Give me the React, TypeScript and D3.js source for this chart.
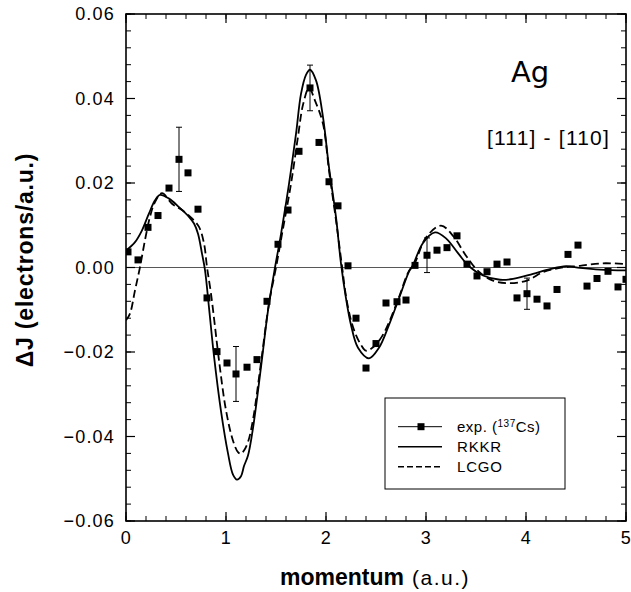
import React from "react";
import * as d3 from "d3";

// Experimental data (exp. 137Cs)
const expX = [0.02, 0.12, 0.22, 0.32, 0.43, 0.53, 0.62, 0.72, 0.81, 0.91, 1.01, 1.10, 1.21, 1.31, 1.41, 1.52, 1.62, 1.73, 1.84, 1.93, 2.03, 2.12, 2.22, 2.30, 2.40, 2.50, 2.60, 2.71, 2.80, 2.89, 3.01, 3.11, 3.21, 3.31, 3.41, 3.51, 3.61, 3.71, 3.81, 3.91, 4.01, 4.11, 4.21, 4.31, 4.42, 4.52, 4.61, 4.71, 4.82, 4.92, 5.0];
const expY = [0.0037, 0.0018, 0.0095, 0.0123, 0.0188, 0.0256, 0.0224, 0.0138, -0.0072, -0.0199, -0.0226, -0.0252, -0.0236, -0.0218, -0.008, 0.0055, 0.0136, 0.0275, 0.0425, 0.0296, 0.0203, 0.0146, 0.0004, -0.012, -0.0238, -0.018, -0.0084, -0.0081, -0.0077, 0.0005, 0.0029, 0.0041, 0.0047, 0.0075, 0.0008, -0.002, -0.001, 0.0008, 0.0013, -0.0072, -0.0062, -0.0075, -0.0091, -0.0052, 0.0031, 0.0053, -0.0044, -0.0026, -0.0009, -0.0046, -0.0028];
// error bars: [index, half-height]
const errIdx = [5, 11, 18, 30, 40];
const errVal = [0.0076, 0.0065, 0.0054, 0.0041, 0.0037];

// RKKR (solid)
const rkkrX = [0, 0.09, 0.16, 0.23, 0.29, 0.34, 0.43, 0.53, 0.63, 0.68, 0.72, 0.76, 0.79, 0.83, 0.88, 0.95, 1.02, 1.07, 1.11, 1.15, 1.18, 1.22, 1.27, 1.35, 1.42, 1.49, 1.55, 1.63, 1.70, 1.75, 1.80, 1.84, 1.90, 1.97, 2.03, 2.10, 2.15, 2.20, 2.25, 2.32, 2.43, 2.53, 2.63, 2.73, 2.83, 2.87, 2.97, 3.09, 3.20, 3.32, 3.43, 3.57, 3.74, 3.87, 4.07, 4.24, 4.40, 4.54, 4.74, 5.0];
const rkkrY = [0.004, 0.006, 0.0088, 0.0128, 0.0159, 0.0172, 0.0163, 0.0143, 0.012, 0.0104, 0.008, 0.0033, -0.0006, -0.0095, -0.021, -0.034, -0.044, -0.049, -0.0502, -0.0494, -0.047, -0.0445, -0.038, -0.0236, -0.0102, 0, 0.0079, 0.0198, 0.0316, 0.0411, 0.0456, 0.0468, 0.0443, 0.0356, 0.0237, 0.0119, 0.0009, -0.0073, -0.0136, -0.019, -0.0215, -0.019, -0.0136, -0.0073, -0.001, 0.0006, 0.0058, 0.0083, 0.0069, 0.0034, 0.0003, -0.0019, -0.0029, -0.0027, -0.0015, -0.0004, 0.0003, -0.0001, -0.0005, -0.0007];

// LCGO (dashed)
const lcgoX = [0, 0.04, 0.09, 0.14, 0.19, 0.24, 0.29, 0.36, 0.46, 0.56, 0.66, 0.73, 0.78, 0.81, 0.85, 0.89, 0.93, 1.0, 1.07, 1.12, 1.15, 1.18, 1.22, 1.27, 1.35, 1.43, 1.50, 1.56, 1.65, 1.72, 1.77, 1.83, 1.89, 1.97, 2.03, 2.10, 2.16, 2.20, 2.25, 2.30, 2.35, 2.40, 2.48, 2.56, 2.63, 2.73, 2.83, 2.88, 3.0, 3.15, 3.27, 3.40, 3.52, 3.67, 3.84, 4.01, 4.17, 4.34, 4.54, 4.77, 5.0];
const lcgoY = [-0.0125, -0.0109, -0.0054, 0.0001, 0.0065, 0.012, 0.0155, 0.0176, 0.0151, 0.0136, 0.0116, 0.0096, 0.0057, 0.0001, -0.0062, -0.014, -0.022, -0.0338, -0.041, -0.0437, -0.0441, -0.0433, -0.0413, -0.036, -0.0225, -0.0085, 0.0, 0.0079, 0.0198, 0.031, 0.0385, 0.0425, 0.0395, 0.034, 0.023, 0.0112, 0.0003, -0.0068, -0.0125, -0.016, -0.0183, -0.0197, -0.0187, -0.0163, -0.013, -0.007, -0.0008, 0.0006, 0.0071, 0.0099, 0.0075, 0.0028, -0.0008, -0.0031, -0.0037, -0.0031, -0.0011, -0.0001, 0.0004, 0.001, 0.0008];

const xTicks = [0, 1, 2, 3, 4, 5];
const yTicks = [-0.06, -0.04, -0.02, 0.0, 0.02, 0.04, 0.06];

const W = 631, H = 592;
const L = 126, R = 626, T = 14, B = 521;

export default function App() {
  const x = d3.scaleLinear().domain([0, 5]).range([L, R]);
  const y = d3.scaleLinear().domain([-0.06, 0.06]).range([B, T]);

  const line = d3.line<[number, number]>()
    .x((d) => x(d[0]))
    .y((d) => y(d[1]))
    .curve(d3.curveCatmullRom.alpha(0.5));

  const rkkr = rkkrX.map((v, i) => [v, rkkrY[i]] as [number, number]);
  const lcgo = lcgoX.map((v, i) => [v, lcgoY[i]] as [number, number]);

  const xMinor = d3.range(0, 5.0001, 0.2);
  const yMinor = d3.range(-0.06, 0.06001, 0.004);
  const fmtY = (v: number) => (Math.abs(v) < 1e-9 ? "0.00" : v.toFixed(2).replace("-", "\u2212"));

  const sq = 7;
  const font = "'Liberation Sans', Arial, sans-serif";

  return (
    <svg width={W} height={H} style={{ position: "absolute", left: 0, top: 0, background: "#fff" }} fontFamily={font}>
      <rect x={0} y={0} width={W} height={H} fill="#fff" />
      <defs>
        <clipPath id="plot">
          <rect x={L} y={T} width={R - L} height={B - T} />
        </clipPath>
      </defs>

      {/* zero line */}
      <line x1={L} x2={R} y1={y(0)} y2={y(0)} stroke="#444" strokeWidth={0.9} />

      {/* minor ticks */}
      {xMinor.map((v, i) => (
        <g key={"xm" + i} stroke="#000" strokeWidth={1}>
          <line x1={x(v)} x2={x(v)} y1={B} y2={B - 5} />
          <line x1={x(v)} x2={x(v)} y1={T} y2={T + 5} />
        </g>
      ))}
      {yMinor.map((v, i) => (
        <g key={"ym" + i} stroke="#000" strokeWidth={1}>
          <line x1={L} x2={L + 5} y1={y(v)} y2={y(v)} />
          <line x1={R} x2={R - 5} y1={y(v)} y2={y(v)} />
        </g>
      ))}
      {/* major ticks */}
      {xTicks.map((v) => (
        <g key={"xt" + v} stroke="#000" strokeWidth={1.2}>
          <line x1={x(v)} x2={x(v)} y1={B} y2={B - 9} />
          <line x1={x(v)} x2={x(v)} y1={T} y2={T + 9} />
        </g>
      ))}
      {yTicks.map((v) => (
        <g key={"yt" + v} stroke="#000" strokeWidth={1.2}>
          <line x1={L} x2={L + 9} y1={y(v)} y2={y(v)} />
          <line x1={R} x2={R - 9} y1={y(v)} y2={y(v)} />
        </g>
      ))}

      {/* frame */}
      <rect x={L} y={T} width={R - L} height={B - T} fill="none" stroke="#000" strokeWidth={1.6} />

      {/* tick labels */}
      {xTicks.map((v) => (
        <text key={"xl" + v} x={x(v)} y={538} textAnchor="middle" dominantBaseline="central" fontSize={18} letterSpacing={0.5}>
          {String(v)}
        </text>
      ))}
      {yTicks.map((v) => (
        <text key={"yl" + v} x={115} y={y(v)} textAnchor="end" dominantBaseline="central" fontSize={18} letterSpacing={1.2}>
          {fmtY(v)}
        </text>
      ))}

      {/* curves */}
      <g clipPath="url(#plot)">
        <path d={line(rkkr) || ""} fill="none" stroke="#000" strokeWidth={1.8} />
        <path d={line(lcgo) || ""} fill="none" stroke="#000" strokeWidth={1.8} strokeDasharray="8,4" />

        {/* error bars */}
        {errIdx.map((idx, k) => {
          const cx = x(expX[idx]);
          const y1 = y(expY[idx] + errVal[k]);
          const y2 = y(expY[idx] - errVal[k]);
          return (
            <g key={"eb" + k} stroke="#000" strokeWidth={1}>
              <line x1={cx} x2={cx} y1={y1} y2={y2} />
              <line x1={cx - 3} x2={cx + 3} y1={y1} y2={y1} />
              <line x1={cx - 3} x2={cx + 3} y1={y2} y2={y2} />
            </g>
          );
        })}
        {/* points */}
        {expX.map((v, i) => (
          <rect key={"p" + i} x={x(v) - sq / 2} y={y(expY[i]) - sq / 2} width={sq} height={sq} fill="#000" />
        ))}
      </g>

      {/* annotations */}
      <text x={511} y={82} fontSize={29} fontFamily="'DejaVu Sans', sans-serif">Ag</text>
      <text x={610} y={145} textAnchor="end" fontSize={21} letterSpacing={1.2}>[111] - [110]</text>

      {/* legend */}
      <rect x={385} y={398} width={180} height={91} fill="#fff" stroke="#000" strokeWidth={1} />
      <line x1={398} x2={442} y1={426.7} y2={426.7} stroke="#000" strokeWidth={1} />
      <rect x={421 - sq / 2} y={426.7 - sq / 2} width={sq} height={sq} fill="#000" />
      <line x1={398} x2={442} y1={446.7} y2={446.7} stroke="#000" strokeWidth={1.5} />
      <line x1={398} x2={442} y1={466.7} y2={466.7} stroke="#000" strokeWidth={1.5} strokeDasharray="6,3" />
      <text x={457} y={432} fontSize={15} letterSpacing={0.5}>
        exp. (<tspan fontSize={10} dy={-5}>137</tspan><tspan dy={5}>Cs)</tspan>
      </text>
      <text x={457} y={452} fontSize={15} letterSpacing={0.8}>RKKR</text>
      <text x={457} y={472} fontSize={15} letterSpacing={0.8}>LCGO</text>

      {/* axis titles */}
      <text x={280} y={585} fontSize={23}>
        <tspan fontWeight="bold">momentum</tspan>
        <tspan dx={8} fontSize={21} letterSpacing={1.5}>(a.u.)</tspan>
      </text>
      <text transform={`translate(33, 260) rotate(-90)`} textAnchor="middle" fontSize={23} fontWeight="bold" letterSpacing={0.8}>
        ΔJ (electrons/a.u.)
      </text>
    </svg>
  );
}
